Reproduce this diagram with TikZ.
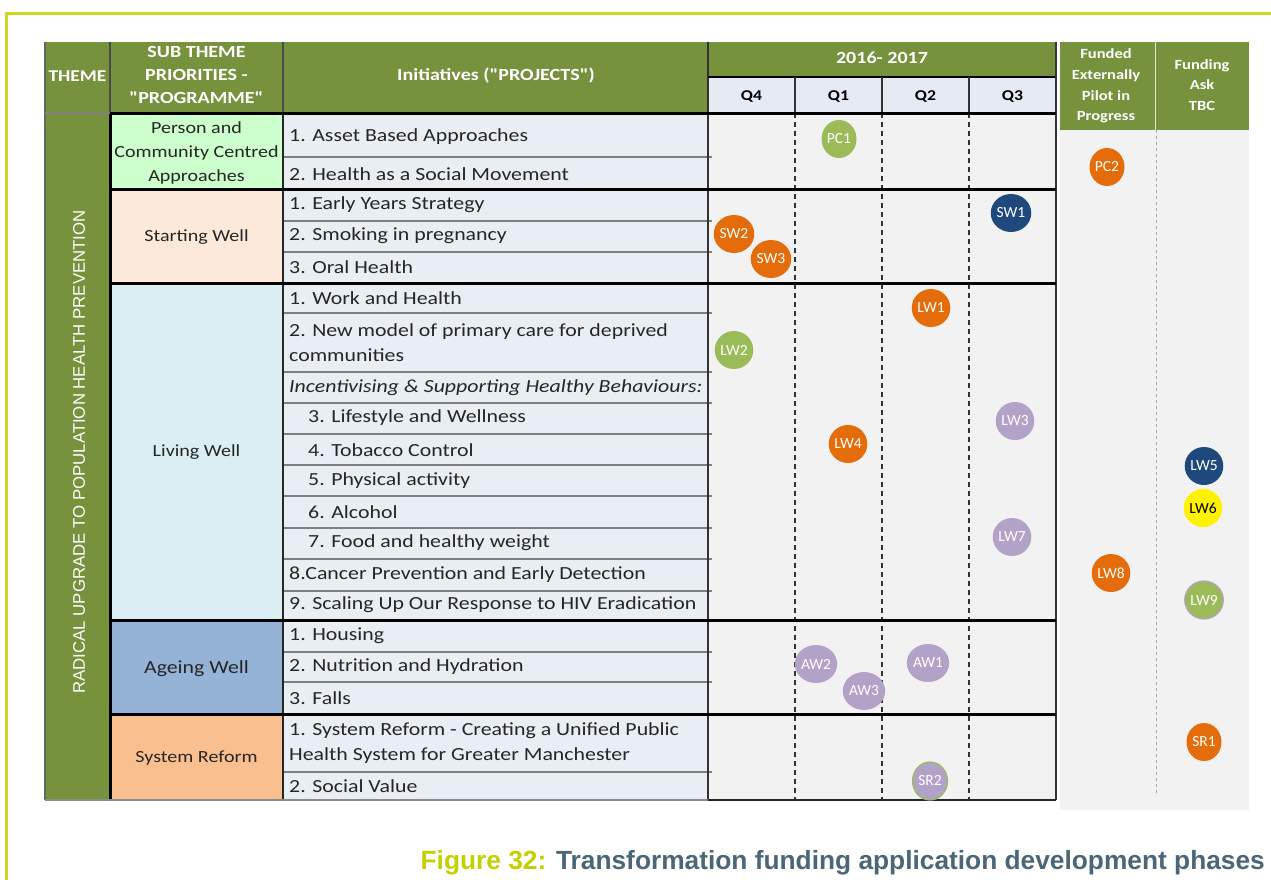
\documentclass[tikz,border=0pt]{standalone}
\usepackage{fontspec}
\setmainfont{Carlito}[FakeStretch=1.18]
\newfontfamily\qfont{Carlito}[FakeStretch=1.18, Ligatures=TeXOff]
\newfontfamily\bubfont{Carlito}
\newfontfamily\capfont{Liberation Sans}
\usetikzlibrary{shapes.geometric}
\definecolor{framec}{HTML}{CDD91E}
\definecolor{hdr}{HTML}{76923C}
\definecolor{qrow}{HTML}{E6EBF3}
\definecolor{initc}{HTML}{E9EDF4}
\definecolor{panel}{HTML}{F2F2F2}
\definecolor{pcc}{HTML}{CCFFCC}
\definecolor{swc}{HTML}{FDE9D9}
\definecolor{lwc}{HTML}{DAEEF3}
\definecolor{awc}{HTML}{95B3D7}
\definecolor{src}{HTML}{FABF8F}
\definecolor{orng}{HTML}{E46C0A}
\definecolor{grn}{HTML}{9BBB59}
\definecolor{navy}{HTML}{1F497D}
\definecolor{lav}{HTML}{B3A2C7}
\definecolor{capy}{HTML}{C5D000}
\definecolor{capb}{HTML}{4B6777}
\definecolor{sepg}{HTML}{7F7F7F}
\newcommand\dq{{\qfont\bfseries "}}
\tikzset{
  hdrtxt/.style={text=white, font=\bfseries\fontsize{17}{23}\selectfont, align=center, inner sep=0},
  qtxt/.style={text=black, font=\bfseries\fontsize{15}{18}\selectfont, inner sep=0},
  smhdr/.style={text=white, font=\bfseries\fontsize{14}{20.7}\selectfont, align=center, inner sep=0},
  subtxt/.style={text=black!85, font=\fontsize{17}{24}\selectfont, align=center, inner sep=0},
  inittxt/.style={text=black!85, font=\fontsize{18.5}{25}\selectfont, anchor=west, inner sep=0, align=left},
  bub/.style={ellipse, minimum width=35, minimum height=38, inner sep=0, text=white, font=\bubfont\fontsize{15.5}{16}\selectfont},
  sepline/.style={draw=sepg, line width=1.6pt},
  thick/.style={draw=black, line width=3pt},
  qdash/.style={draw=black!80, line width=1.5pt, dash pattern=on 5pt off 4pt}
}
\begin{document}
\begin{tikzpicture}[x=1pt,y=-1pt]
\useasboundingbox (0,0) rectangle (1271,880);
\fill[white] (0,0) rectangle (1271,880);
% frame
\draw[framec, line width=3pt] (1271,13.5) -- (6.5,13.5) -- (6.5,880);

% fills
\fill[hdr] (45,42) rectangle (708,113);
\fill[hdr] (708,42) rectangle (1056,77);
\fill[qrow] (708,77) rectangle (1056,113);
\fill[hdr] (1060,42) rectangle (1249,130);
\fill[panel] (1060,130) rectangle (1249,810);
\fill[hdr] (45,113) rectangle (110,800);
\fill[pcc] (110,113) rectangle (283,189);
\fill[swc] (110,189) rectangle (283,283);
\fill[lwc] (110,283) rectangle (283,620);
\fill[awc] (110,620) rectangle (283,714);
\fill[src] (110,714) rectangle (283,800);
\fill[initc] (283,113) rectangle (708,800);
\fill[panel] (708,113) rectangle (1056,800);

% initiative row separators
\foreach \y in {157,221,252,313,372,403,434,465,496,528,559,591,652,682,772}
  \draw[sepline] (283,\y) -- (712,\y);

% header internal lines
\draw[black!70, line width=1.2pt] (110,42) -- (110,113);
\draw[black!70, line width=1.2pt] (283,42) -- (283,113);
\draw[black!80, line width=1.5pt] (708,42) -- (708,113);
\draw[black, line width=2.5pt] (708,77) -- (1056,77);
\draw[black!80, line width=1.2pt] (1056,42) -- (1056,113);
\foreach \x in {795,882,969} \draw[black!80, line width=1.5pt] (\x,77) -- (\x,113);
\draw[white!80!hdr, line width=1pt] (1155,42) -- (1155,130);
\draw[black!35, line width=1pt, dash pattern=on 3pt off 3pt] (1156,130) -- (1156,795);

% timeline dashed quarter lines
\foreach \x in {795,882,969} \draw[qdash] (\x,113) -- (\x,800);

% verticals body
\draw[black, line width=3pt] (110,113) -- (110,800);
\draw[black!85, line width=1.5pt] (283,113) -- (283,800);
\draw[black!80, line width=1.5pt] (708,113) -- (708,800);
\draw[black!80, line width=1.5pt] (1056,113) -- (1056,800);
\draw[black!60, line width=1.2pt] (45,42) -- (45,800);

% thick group lines
\foreach \y in {114,189,283,620,714} \draw[thick] (110,\y) -- (1056,\y);
\draw[black!50, line width=1.2pt] (45,113) -- (110,113);
\draw[black!45, line width=1.5pt] (45,800) -- (708,800);
\draw[black!85, line width=1.5pt] (708,800) -- (1056,800);

% header texts
\node[hdrtxt, font=\bfseries\fontsize{16.5}{20}\selectfont] (hTheme) at (77.5,76) {THEME};
\node[hdrtxt] (hSub) at (196.5,75) {SUB THEME\\PRIORITIES -\\\dq PROGRAMME\dq};
\node[hdrtxt] (hInit) at (496,75) {Initiatives (\dq PROJECTS\dq)};
\node[hdrtxt, font=\bfseries\fontsize{17}{18}\selectfont] (hYear) at (882,58) {2016- 2017};
\node[qtxt] (q4) at (751.5,97) {Q4};
\node[qtxt] (q1) at (838.5,97) {Q1};
\node[qtxt] (q2) at (925.5,97) {Q2};
\node[qtxt] (q3) at (1012.5,97) {Q3};
\node[smhdr] (hFund) at (1106,86) {Funded\\Externally\\Pilot in\\Progress};
\node[smhdr] (hAsk) at (1202,85) {Funding\\Ask\\TBC};

% theme vertical text
\node[text=white, font=\capfont\fontsize{16.8}{18}\selectfont, rotate=90, inner sep=0] (theme) at (79,452) {RADICAL UPGRADE TO POPULATION HEALTH PREVENTION};

% sub themes
\node[subtxt] (sPC) at (196.5,153) {Person and\\Community Centred\\Approaches};
\node[subtxt] (sSW) at (196.5,237) {Starting Well};
\node[subtxt] (sLW) at (196.5,452) {Living Well};
\node[subtxt, font=\fontsize{18.5}{24}\selectfont] (sAW) at (196.5,669) {Ageing Well};
\node[subtxt] (sSR) at (196.5,758) {System Reform};

% initiatives
\node[inittxt] (i1) at (289,137) {1. Asset Based Approaches};
\node[inittxt] (i2) at (289,174) {2. Health as a Social Movement};
\node[inittxt] (i3) at (289,205) {1. Early Years Strategy};
\node[inittxt] (i4) at (289,236) {2. Smoking in pregnancy};
\node[inittxt] (i5) at (289,267) {3. Oral Health};
\node[inittxt] (i6) at (289,298) {1. Work and Health};
\node[inittxt] (i7) at (289,343) {2. New model of primary care for deprived\\communities};
\node[inittxt, font=\itshape\fontsize{18.5}{25}\selectfont] (i8) at (289,388) {Incentivising \& Supporting Healthy Behaviours:};
\node[inittxt] (i9) at (308,418) {3. Lifestyle and Wellness};
\node[inittxt] (i10) at (308,450) {4. Tobacco Control};
\node[inittxt] (i11) at (308,481) {5. Physical activity};
\node[inittxt] (i12) at (308,512) {6. Alcohol};
\node[inittxt] (i13) at (308,543) {7. Food and healthy weight};
\node[inittxt] (i14) at (289,575) {8.Cancer Prevention and Early Detection};
\node[inittxt] (i15) at (289,605) {9. Scaling Up Our Response to HIV Eradication};
\node[inittxt] (i16) at (289,636) {1. Housing};
\node[inittxt] (i17) at (289,667) {2. Nutrition and Hydration};
\node[inittxt] (i18) at (289,698) {3. Falls};
\node[inittxt] (i19) at (289,743) {1. System Reform - Creating a Unified Public\\Health System for Greater Manchester};
\node[inittxt] (i20) at (289,786) {2. Social Value};

% bubbles
\node[bub, fill=grn] (PC1) at (839,139) {PC1};
\node[bub, fill=orng] (PC2) at (1107,167) {PC2};
\node[bub, fill=navy] (SW1) at (1011,213) {SW1};
\node[bub, fill=orng] (SW2) at (734,234) {SW2};
\node[bub, fill=orng] (SW3) at (771,259) {SW3};
\node[bub, fill=orng] (LW1) at (931,308) {LW1};
\node[bub, fill=grn] (LW2) at (734,350) {LW2};
\node[bub, fill=lav] (LW3) at (1015,421) {LW3};
\node[bub, fill=orng] (LW4) at (848,444) {LW4};
\node[bub, fill=navy] (LW5) at (1204,466) {LW5};
\node[bub, fill=yellow, text=black] (LW6) at (1203,508) {LW6};
\node[bub, fill=lav] (LW7) at (1012,537) {LW7};
\node[bub, fill=orng] (LW8) at (1111,573) {LW8};
\node[bub, fill=grn, draw=lav, line width=1.2pt] (LW9) at (1204,600) {LW9};
\node[bub, fill=lav] (AW1) at (928,663) {AW1};
\node[bub, fill=lav] (AW2) at (816,664) {AW2};
\node[bub, fill=lav] (AW3) at (864,691) {AW3};
\node[bub, fill=orng] (SR1) at (1204,742) {SR1};
\node[bub, fill=lav, draw=grn, line width=1.2pt] (SR2) at (930,781) {SR2};

% caption
\node[anchor=base east, inner sep=0, font=\capfont\bfseries\fontsize{26.3}{30}\selectfont] (cap) at (1265,869) {\textcolor{capy}{Figure 32:} \textcolor{capb}{Transformation funding application development phases}};
\end{tikzpicture}
\end{document}
